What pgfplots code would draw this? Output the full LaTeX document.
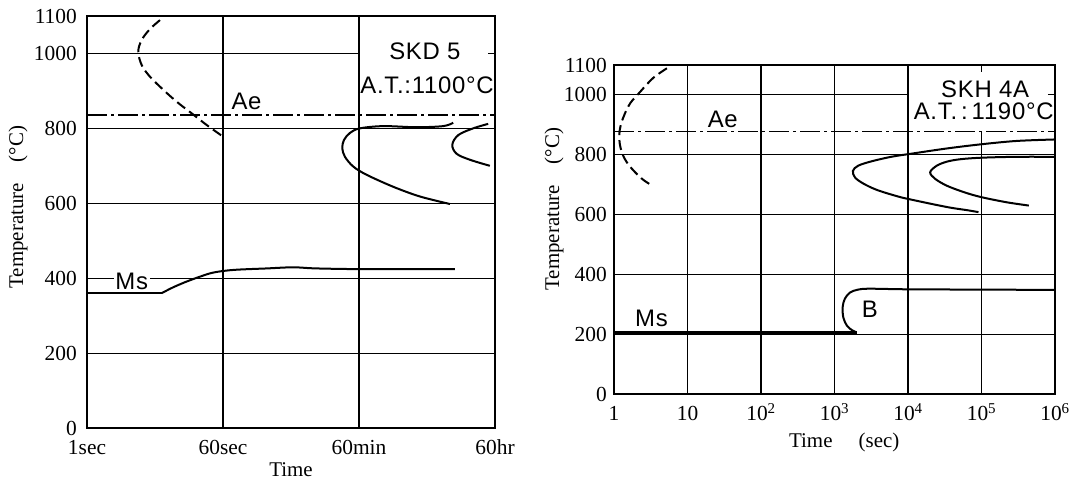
\documentclass[border=0pt]{standalone}
\usepackage{fontspec}
\setmainfont{Liberation Serif}
\newfontfamily\lab[LetterSpace=3]{Liberation Sans}
\usepackage{pgfplots}
\pgfplotsset{compat=1.18}
\tikzset{
  gridl/.style={line width=1.1bp},
  ann/.style={font=\lab\fontsize{24}{24}\selectfont},
}
\pgfplotsset{
  ttcommon/.style={
    scale only axis, clip=false,
    ymin=0, ymax=1100,
    ytick={0,200,400,600,800,1000,1100},
    yticklabels={0,200,400,600,800,1000,1100},
    major tick length=0pt, minor tick length=0pt,
    axis line style={line width=1.5bp},
    every tick label/.append style={font=\fontsize{21.5}{21.5}\selectfont},
    xticklabel style={anchor=base, yshift=-27bp},
    label style={font=\fontsize{21}{21}\selectfont},
  },
  crv/.style={line width=2bp, smooth, tension=0.55, no marks, black},
  aeline/.style={line width=1.3bp, no marks, black, dash pattern=on 20bp off 4bp on 3bp off 4bp},
  dcrv/.style={line width=2bp, smooth, tension=0.55, no marks, black, dash pattern=on 10bp off 5bp},
}
\begin{document}
\begin{tikzpicture}[x=1bp,y=1bp]
\useasboundingbox (0,0) rectangle (1075,483);
% ---------------- SKD 5 ----------------
\begin{axis}[ttcommon,
  at={(87bp,55bp)}, anchor=south west,
  width=408bp, height=412bp,
  xmode=log, xmin=1, xmax=216000,
  xtick={1,60,3600,216000}, xticklabels={1sec,60sec,60min,60hr},
  yticklabel style={anchor=east, inner sep=0pt, xshift=-10bp},
  xlabel={Time}, ylabel={Temperature\quad(°C)},
  xlabel style={at={(axis description cs:0.5,-0.102)}, anchor=center},
  ylabel style={at={(axis description cs:-0.169,0.536)}, anchor=center},
]
% grid
\draw[gridl] (axis cs:60,0) -- (axis cs:60,1100);
\draw[gridl] (axis cs:3600,0) -- (axis cs:3600,1100);
\draw[gridl] (axis cs:1,200) -- (axis cs:216000,200);
\draw[gridl] (axis cs:1,400) -- (axis cs:216000,400);
\draw[gridl] (axis cs:1,600) -- (axis cs:216000,600);
\draw[gridl] (axis cs:1,800) -- (axis cs:216000,800);
\draw[gridl] (axis cs:1,1000) -- (axis cs:3600,1000);
\draw[gridl] (axis cs:176000,1000) -- (axis cs:216000,1000);
% Ae
\addplot[aeline] coordinates {(1,836) (216000,836)};
% dashed start curve
\addplot[dcrv] coordinates {
 (9.0,1089) (6.65,1065) (5.19,1036) (4.68,1005) (5.19,969) (6.65,938)
 (9.94,903) (14.9,871) (23.4,840) (36.7,809) (60,778)};
% pearlite start
\addplot[crv] coordinates {
 (61400,815) (45500,806) (20100,803) (7520,806) (3700,800) (2750,788)
 (2290,769) (2175,747) (2360,724) (3030,698) (4530,676) (10100,644)
 (22600,618) (55700,598)};
% pearlite finish
\addplot[crv] coordinates {
 (176000,812) (112000,800) (71500,782) (59700,756) (68100,732)
 (102000,716) (185000,700)};
% Ms
\addplot[line width=2bp, no marks, black] coordinates {(1,360) (9.46,360)};
\addplot[crv] coordinates {
 (9.46,360) (13.5,376) (20.1,391) (30.0,404) (44.9,415) (81.9,422)
 (223,426) (498,429) (1007,426) (4530,424) (64700,424)};
\node[ann] at (axis cs:122,871) {Ae};
\node[ann, fill=white, inner sep=1.5bp] at (axis cs:3.85,392) {Ms};
\node[ann] at (axis cs:26200,1005) {SKD 5};
\node[ann] at (axis cs:27900,916) {A.T.:1100°C};
\end{axis}
% ---------------- SKH 4A ----------------
\begin{axis}[ttcommon,
  at={(614bp,89bp)}, anchor=south west,
  width=441bp, height=329bp,
  xmode=log, xmin=1, xmax=1000000,
  xtick={1,10,100,1000,10000,100000,1000000},
  xticklabels={1,10,10\textsuperscript{2},10\textsuperscript{3},10\textsuperscript{4},10\textsuperscript{5},10\textsuperscript{6}},
  yticklabel style={anchor=east, inner sep=0pt, xshift=-7bp},
  xlabel={Time\quad\ (sec)}, ylabel={Temperature\quad(°C)},
  xlabel style={at={(axis description cs:0.522,-0.146)}, anchor=center},
  ylabel style={at={(axis description cs:-0.136,0.562)}, anchor=center},
]
\draw[gridl] (axis cs:10,0) -- (axis cs:10,1100);
\draw[gridl] (axis cs:100,0) -- (axis cs:100,1100);
\draw[gridl] (axis cs:1000,0) -- (axis cs:1000,1100);
\draw[gridl] (axis cs:10000,0) -- (axis cs:10000,1100);
\draw[gridl] (axis cs:100000,0) -- (axis cs:100000,875);
\draw[gridl] (axis cs:100000,1100) -- (axis cs:100000,1078);
\draw[gridl] (axis cs:1,200) -- (axis cs:1000000,200);
\draw[gridl] (axis cs:1,400) -- (axis cs:1000000,400);
\draw[gridl] (axis cs:1,600) -- (axis cs:1000000,600);
\draw[gridl] (axis cs:1,800) -- (axis cs:1000000,800);
\draw[gridl] (axis cs:1,1000) -- (axis cs:10000,1000);
\draw[gridl] (axis cs:800000,1000) -- (axis cs:1000000,1000);
% Ae
\addplot[aeline] coordinates {(1,878) (1000000,878)};
% dashed start curve
\addplot[dcrv] coordinates {
 (5.25,1089) (3.39,1056) (2.19,1006) (1.67,973) (1.42,940) (1.24,901)
 (1.18,868) (1.20,835) (1.31,801) (1.50,774) (1.86,746) (2.44,718) (3.14,700)};
% outer C curve
\addplot[crv] coordinates {
 (1000000,851) (300000,846) (100000,835) (34000,821) (11500,804) (5900,793)
 (3090,777) (2090,763) (1780,746) (1900,724) (2450,704) (3800,682)
 (7400,660) (11500,649) (34000,625) (66000,614) (91000,608)};
% inner C curve
\addplot[crv] coordinates {
 (1000000,793) (300000,793) (100000,790) (52000,785) (34000,777) (24500,763)
 (20000,741) (23500,719) (34000,696) (59000,674) (100000,658) (220000,641)
 (440000,630)};
% Ms and bainite
\addplot[line width=2.8bp, no marks, black] coordinates {(1,206) (2000,206)};
\addplot[crv] coordinates {
 (2000,206) (1740,213) (1480,228) (1320,255) (1290,290) (1380,318)
 (1620,339) (2090,349) (3020,352) (10000,350) (100000,349) (1000000,348)};
\node[ann] at (axis cs:30.2,918) {Ae};
\node[ann] at (axis cs:3.24,254) {Ms};
\node[ann] at (axis cs:3020,284) {B};
\node[ann] at (axis cs:112000,1020) {SKH 4A};
\node[ann] at (axis cs:107000,946) {A.T.\,:\,1190°C};
\end{axis}
\end{tikzpicture}
\end{document}
